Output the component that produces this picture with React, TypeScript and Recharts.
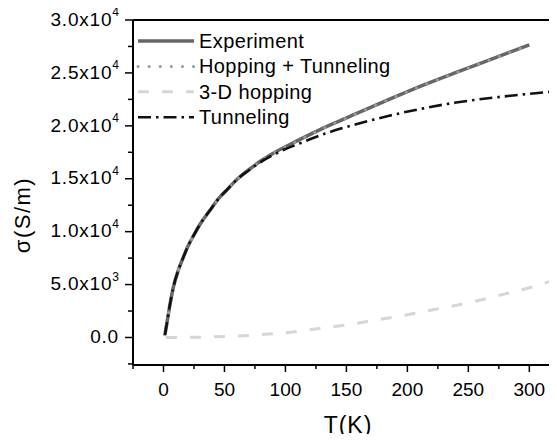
import { Legend, Line, LineChart, ReferenceLine, XAxis, YAxis } from "recharts";

const FONT = '"Liberation Sans", Arial, Helvetica, sans-serif';

// Experiment (T in K, sigma in S/m)
const expT = [1.2, 3, 5, 8, 12, 16, 20, 25, 30, 38, 45, 52, 60, 70, 80, 93, 110, 125, 140, 158, 185, 213, 240, 268, 300];
const expSigma = [250, 1500, 2900, 4700, 6300, 7500, 8600, 9700, 10700, 12000, 13100, 13950, 14900, 15850, 16700, 17600, 18600, 19450, 20250, 21150, 22500, 23850, 25050, 26250, 27650];

// Hopping + Tunneling fit
const fitT = [1.2, 3, 5, 8, 12, 16, 20, 25, 30, 38, 45, 52, 60, 70, 80, 93, 110, 125, 140, 158, 185, 213, 240, 268, 300];
const fitSigma = [250, 1500, 2900, 4700, 6300, 7500, 8600, 9700, 10700, 12000, 13100, 13950, 14900, 15850, 16700, 17580, 18580, 19420, 20230, 21130, 22480, 23820, 25020, 26230, 27620];

// 3-D hopping
const hopT = [2, 25, 50, 75, 100, 120, 145, 167, 195, 221, 250, 276, 300, 320, 330];
const hopSigma = [0, 20, 90, 230, 450, 730, 1100, 1510, 2050, 2620, 3280, 4000, 4700, 5390, 5700];

// Tunneling
const tunT = [1.2, 3, 5, 8, 12, 16, 20, 25, 30, 38, 45, 52, 60, 70, 80, 90, 100, 112, 125, 140, 158, 185, 213, 240, 268, 295, 322, 330];
const tunSigma = [250, 1500, 2900, 4700, 6300, 7500, 8600, 9700, 10700, 12000, 13100, 13950, 14900, 15800, 16600, 17250, 17800, 18350, 18950, 19550, 20150, 20950, 21650, 22200, 22630, 22970, 23270, 23350];

const xTicks = [-25, 0, 25, 50, 75, 100, 125, 150, 175, 200, 225, 250, 275, 300];
const xMajor = [0, 50, 100, 150, 200, 250, 300];
const xTickLabels = ["0", "50", "100", "150", "200", "250", "300"];

const yTicks = [-2500, 0, 2500, 5000, 7500, 10000, 12500, 15000, 17500, 20000, 22500, 25000, 27500, 30000];
const yMajor = [0, 5000, 10000, 15000, 20000, 25000, 30000];
const yTickLabels = ["0.0", "5.0x10^3", "1.0x10^4", "1.5x10^4", "2.0x10^4", "2.5x10^4", "3.0x10^4"];

const series = [
  { name: "Experiment", T: expT, s: expSigma, color: "#666666", width: 3.5, dash: undefined, cap: "butt" },
  { name: "Hopping + Tunneling", T: fitT, s: fitSigma, color: "#9a9a9a", width: 3, dash: "0.1 11", cap: "round" },
  { name: "3-D hopping", T: hopT, s: hopSigma, color: "#d6d6d6", width: 3, dash: "11 13", cap: "butt" },
  { name: "Tunneling", T: tunT, s: tunSigma, color: "#111111", width: 2.6, dash: "13 5 2.5 5", cap: "butt" },
];

function toRows(T: number[], s: number[]) {
  return T.map((t, i) => ({ T: t, s: s[i] }));
}

function XTick(props: any) {
  const { x, y, payload } = props;
  const idx = xMajor.indexOf(payload.value);
  const major = idx >= 0;
  return (
    <g>
      <line x1={x} y1={y} x2={x} y2={y + (major ? 7 : 4)} stroke="#000" strokeWidth={1.5} />
      {major ? (
        <text x={x} y={y + 31} textAnchor="middle" fontFamily={FONT} fontSize={19} fill="#000">
          {xTickLabels[idx]}
        </text>
      ) : null}
    </g>
  );
}

function YTick(props: any) {
  const { x, y, payload } = props;
  const idx = yMajor.indexOf(payload.value);
  const major = idx >= 0;
  let main = "";
  let sup = "";
  if (major) {
    [main, sup] = yTickLabels[idx].split("^");
  }
  return (
    <g>
      <line x1={x} y1={y} x2={x - (major ? 8 : 5)} y2={y} stroke="#000" strokeWidth={1.5} />
      {major ? (
        <text x={x - 14} y={y + 5.7} textAnchor="end" fontFamily={FONT} fontSize={19} letterSpacing={0.8} fill="#000">
          <tspan>{main}</tspan>
          {sup ? (
            <tspan dy={-9.4} fontSize={12} letterSpacing={0}>
              {sup}
            </tspan>
          ) : null}
        </text>
      ) : null}
    </g>
  );
}

function renderLegend() {
  return (
    <svg width={420} height={130} style={{ display: "block" }}>
      {series.map((d, i) => {
        const cy = 41 + i * 25.4;
        return (
          <g key={d.name}>
            <line
              x1={138}
              x2={194}
              y1={cy}
              y2={cy}
              stroke={d.color}
              strokeWidth={d.width}
              strokeDasharray={d.dash}
              strokeLinecap={d.cap as any}
            />
            <text x={199} y={cy + 7} fontFamily={FONT} fontSize={20} letterSpacing={0.4} fill="#000">
              {d.name}
            </text>
          </g>
        );
      })}
    </svg>
  );
}

export default function App() {
  return (
    <div style={{ margin: -8, width: 557, height: 442, background: "#fff", overflow: "hidden" }}>
      <LineChart width={557} height={442} margin={{ top: 20, right: 0, bottom: 0, left: 0 }}>
        <XAxis
          type="number"
          dataKey="T"
          domain={[-25, 322.7]}
          allowDataOverflow
          ticks={xTicks}
          interval={0}
          height={77}
          tickLine={false}
          tickSize={0}
          tickMargin={0}
          tick={<XTick />}
          axisLine={{ stroke: "#000", strokeWidth: 2 }}
          label={({ viewBox }: any) => (
            <text
              x={viewBox.x + viewBox.width / 2 + 3}
              y={viewBox.y + 68}
              textAnchor="middle"
              fontFamily={FONT}
              fontSize={23}
              letterSpacing={1}
              fill="#000"
            >
              T(K)
            </text>
          )}
        />
        <YAxis
          type="number"
          dataKey="s"
          domain={[-2600, 30000]}
          allowDataOverflow
          ticks={yTicks}
          interval={0}
          width={133}
          tickLine={false}
          tickSize={0}
          tickMargin={0}
          tick={<YTick />}
          axisLine={{ stroke: "#000", strokeWidth: 2 }}
          label={({ viewBox }: any) => {
            const cx = viewBox.x + 22;
            const cy = viewBox.y + 195;
            return (
              <text
                x={cx}
                y={cy}
                transform={`rotate(-90 ${cx} ${cy})`}
                textAnchor="middle"
                dominantBaseline="central"
                fontFamily={FONT}
                fontSize={22}
                letterSpacing={1.5}
                fill="#000"
              >
                σ(S/m)
              </text>
            );
          }}
        />
        <ReferenceLine y={30000} stroke="#000" strokeWidth={2} />
        {series.map((d) => (
          <Line
            key={d.name}
            name={d.name}
            data={toRows(d.T, d.s)}
            dataKey="s"
            type="monotone"
            stroke={d.color}
            strokeWidth={d.width}
            strokeDasharray={d.dash}
            strokeLinecap={d.cap as any}
            dot={false}
            activeDot={false}
            isAnimationActive={false}
          />
        ))}
        <Legend
          layout="horizontal"
          verticalAlign="middle"
          align="center"
          wrapperStyle={{ top: 0, left: 0, width: 420 }}
          content={renderLegend}
        />
      </LineChart>
    </div>
  );
}
